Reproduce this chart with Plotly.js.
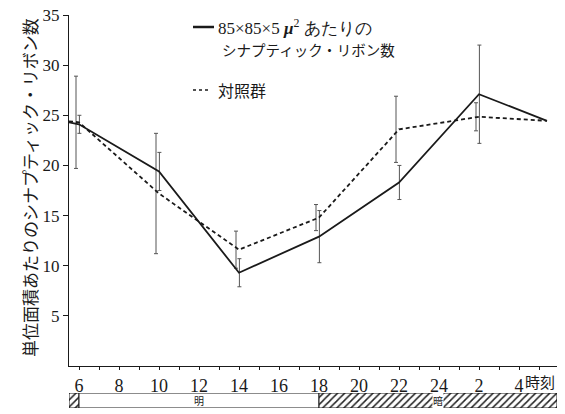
<!DOCTYPE html>
<html><head><meta charset="utf-8">
<script src="https://cdn.plot.ly/plotly-3.0.1.min.js"></script>
<style>html,body{margin:0;padding:0;background:#fff}#chart{width:565px;height:414px}</style>
</head><body><div id="chart"></div>
<script>
// ---- data ----
const hours = [5.5, 6, 10, 14, 18, 22, 26, 29.4];
const ribbonValues = [24.3, 24.1, 19.4, 9.3, 12.9, 18.3, 27.1, 24.45];
const ribbonErrors = [null, 0.9, 1.9, 1.4, 2.6, 1.7, 4.9, null];
const controlValues = [24.4, 24.3, 17.2, 11.6, 14.8, 23.6, 24.85, 24.45];
const controlErrors = [null, 4.6, 6.0, 1.85, 1.3, 3.3, 1.4, null];
const xTickVals = [6, 8, 10, 12, 14, 16, 18, 20, 22, 24, 26, 28];
const xTickText = ['6', '8', '10', '12', '14', '16', '18', '20', '22', '24', '2', '4'];
const yTickVals = [5, 10, 15, 20, 25, 30, 35];
const periodStart = [5.5, 6, 18];
const periodEnd = [6, 18, 29.9];
const periodLabel = ['', '明', '暗'];
const periodDark = [true, false, true];
const ribbonName = '85×85×5 μ² あたりのシナプティック・リボン数';
const controlName = '対照群';
const yTitle = '単位面積あたりのシナプティック・リボン数';

const serif = 'Liberation Serif';
const cjk = 'Noto Sans CJK JP';
const ink = '#1a1a1a';

function withErrors(vals, errs, shift) {
  const x = [], y = [], e = [];
  errs.forEach((v, i) => { if (v !== null) { x.push(hours[i] + shift); y.push(vals[i]); e.push(v); } });
  return {x, y, e};
}
const cErr = withErrors(controlValues, controlErrors, -0.15);
const rErr = withErrors(ribbonValues, ribbonErrors, 0.02);

const traces = [
  {x: cErr.x, y: cErr.y, mode: 'markers', marker: {size: 1, opacity: 0},
   error_y: {type: 'data', array: cErr.e, visible: true, color: '#555', thickness: 1, width: 2},
   hoverinfo: 'skip', showlegend: false},
  {x: rErr.x, y: rErr.y, mode: 'markers', marker: {size: 1, opacity: 0},
   error_y: {type: 'data', array: rErr.e, visible: true, color: '#555', thickness: 1, width: 2},
   hoverinfo: 'skip', showlegend: false},
  {x: hours, y: controlValues, name: controlName, mode: 'lines',
   line: {color: ink, width: 1.8, dash: '4px,3px'}},
  {x: hours, y: ribbonValues, name: ribbonName, mode: 'lines',
   line: {color: ink, width: 1.8}},
  {x: periodEnd.map((e, i) => e - periodStart[i]), base: periodStart, y: periodStart.map(() => 0),
   orientation: 'h', type: 'bar', width: 1, xaxis: 'x2', yaxis: 'y2', hoverinfo: 'skip',
   marker: {color: 'white', line: {color: ink, width: 1},
            pattern: {shape: periodDark.map(d => d ? '/' : ''), fgcolor: '#222', bgcolor: 'white',
                      size: 5, solidity: 0.3, fillmode: 'replace'}}}
];

const W = 565, H = 414, mL = 69, mR = 8, mT = 15, mB = 6;
const pw = W - mL - mR, ph = H - mT - mB;
const px = v => (v - mL) / pw;
const py = v => (H - mB - v) / ph;

const annotations = [
  {text: yTitle, xref: 'paper', yref: 'paper', x: px(29), xanchor: 'center', y: py(188), yanchor: 'middle',
   textangle: -90, showarrow: false, font: {family: cjk, size: 17, color: ink}},
  {text: '時刻', xref: 'paper', yref: 'paper', x: 1, xanchor: 'right', y: py(381), yanchor: 'middle',
   showarrow: false, font: {family: cjk, size: 15, color: ink}},
  {text: '85×85×5 <b><i>μ</i></b><sup>2</sup> あたりの', xref: 'paper', yref: 'paper', x: px(216), xanchor: 'left',
   y: py(27), yanchor: 'middle', showarrow: false, font: {family: serif, size: 17, color: ink}},
  {text: 'シナプティック・リボン数', xref: 'paper', yref: 'paper', x: px(220), xanchor: 'left',
   y: py(50), yanchor: 'middle', showarrow: false, font: {family: cjk, size: 14.5, color: ink}},
  {text: controlName, xref: 'paper', yref: 'paper', x: px(216), xanchor: 'left',
   y: py(90), yanchor: 'middle', showarrow: false, font: {family: cjk, size: 16, color: ink}}
];
periodLabel.forEach((t, i) => {
  if (!t) return;
  annotations.push({text: t, xref: 'x2', yref: 'y2', x: (periodStart[i] + periodEnd[i]) / 2, y: 0,
    showarrow: false, bgcolor: periodDark[i] ? 'white' : 'rgba(0,0,0,0)', borderpad: 0,
    font: {family: cjk, size: 10, color: ink}});
});

const shapes = [
  {type: 'line', xref: 'paper', yref: 'paper', x0: px(193), x1: px(214), y0: py(27), y1: py(27),
   line: {color: ink, width: 2.5}},
  {type: 'line', xref: 'paper', yref: 'paper', x0: px(193), x1: px(208), y0: py(90), y1: py(90),
   line: {color: ink, width: 1.5, dash: '3px,3px'}}
];

const layout = {
  width: W, height: H, margin: {l: mL, r: mR, t: mT, b: mB},
  paper_bgcolor: 'white', plot_bgcolor: 'white', showlegend: false,
  xaxis: {range: [5.5, 29.9], anchor: 'y', showline: true, linecolor: ink, linewidth: 1.2,
    ticks: 'outside', ticklen: 3, tickcolor: ink, tickvals: xTickVals, ticktext: xTickText,
    tickfont: {family: serif, size: 18, color: ink}, showgrid: false, zeroline: false,
    minor: {tick0: 5, dtick: 1, ticks: 'outside', ticklen: 3, tickcolor: ink, showgrid: false}},
  yaxis: {range: [0, 35], domain: [py(366), 1], showline: true, linecolor: ink, linewidth: 1.2,
    ticks: 'outside', ticklen: 5, tickcolor: ink, tickvals: yTickVals,
    tickfont: {family: serif, size: 17, color: ink}, showgrid: false, zeroline: false},
  xaxis2: {range: [5.5, 29.9], anchor: 'y2', visible: false},
  yaxis2: {range: [-0.5, 0.5], domain: [0, py(393)], visible: false},
  annotations: annotations, shapes: shapes
};

Plotly.newPlot('chart', traces, layout, {staticPlot: true});
</script></body></html>
